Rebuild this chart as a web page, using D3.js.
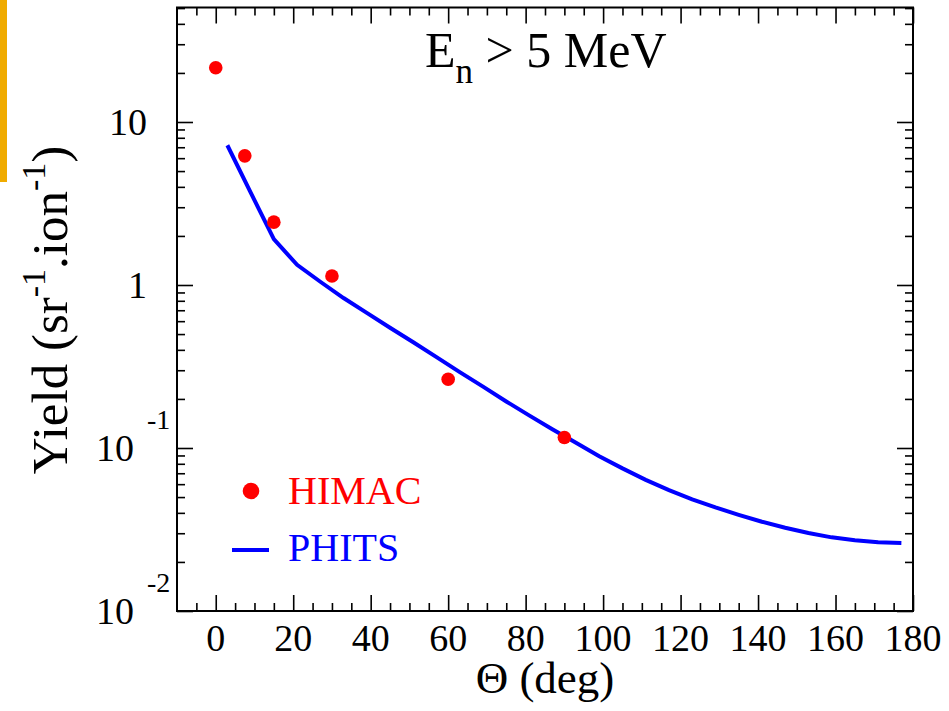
<!DOCTYPE html>
<html>
<head>
<meta charset="utf-8">
<script src="https://cdn.jsdelivr.net/npm/d3@7"></script>
<style>
body { margin: 0; background: #fff; }
text { font-family: "Liberation Serif", "Times New Roman", serif; }
</style>
</head>
<body>
<div id="chart"></div>
<script>
// measured points (HIMAC)
var himacAngle = [0, 7.5, 15, 30, 60, 90];
var himacYield = [21.5, 6.2, 2.43, 1.135, 0.264, 0.116];

// PHITS calculation
var phitsAngle = [3, 9, 15, 21, 27, 33, 39, 45, 51, 57, 63, 69, 75, 81, 87, 93, 99, 105,
    111, 117, 123, 129, 135, 141, 147, 153, 159, 165, 171, 177];
var phitsYield = [7.2, 3.7, 1.91, 1.33, 1.047, 0.832, 0.675, 0.547, 0.445, 0.361, 0.292,
    0.238, 0.193, 0.158, 0.130, 0.1076, 0.089, 0.0750, 0.0638, 0.0552, 0.0484, 0.0432,
    0.0389, 0.0353, 0.0324, 0.0301, 0.0283, 0.0272, 0.0264, 0.0261];

var xTicks = [0, 20, 40, 60, 80, 100, 120, 140, 160, 180];
var xMinor = [-5, 5, 10, 15, 25, 30, 35, 45, 50, 55, 65, 70, 75, 85, 90, 95, 105, 110, 115,
    125, 130, 135, 145, 150, 155, 165, 170, 175];
var yTicks = [0.01, 0.1, 1, 10];
var yBase = ["10", "10", "1", "10"];
var yExp = ["-2", "-1", "", ""];

var width = 949, height = 711;
var pLeft = 177, pRight = 913, pTop = 7.5, pBottom = 611;

var svg = d3.select("#chart")
    .append("svg")
    .attr("width", width)
    .attr("height", height);

// stray orange strip at the left edge of the picture
svg.append("rect")
    .attr("x", 0).attr("y", 0)
    .attr("width", 7).attr("height", 182)
    .attr("fill", "#f0ab00");

var x = d3.scaleLinear().domain([-10, 180]).range([pLeft, pRight]);
var y = d3.scaleLog().domain([0.01, 50.4]).range([pBottom, pTop]);

var yMinor = [];
yTicks.forEach(function(d) {
    for (var k = 2; k <= 9; k++) {
        if (d * k <= 50.4) yMinor.push(d * k);
    }
});

// ticks on all four sides, pointing inward
function tickAxis(gen, scale, vals, size, tx, ty) {
    var g = svg.append("g")
        .attr("transform", "translate(" + tx + "," + ty + ")")
        .call(gen(scale).tickValues(vals).tickSize(-size).tickFormat(""));
    g.select(".domain").remove();
    g.selectAll("line").attr("stroke", "#000").attr("stroke-width", 1.6);
}
tickAxis(d3.axisBottom, x, xTicks, 16, 0, pBottom);
tickAxis(d3.axisBottom, x, xMinor, 8, 0, pBottom);
tickAxis(d3.axisTop, x, xTicks, 16, 0, pTop);
tickAxis(d3.axisTop, x, xMinor, 8, 0, pTop);
tickAxis(d3.axisLeft, y, yTicks, 16, pLeft, 0);
tickAxis(d3.axisLeft, y, yMinor, 8, pLeft, 0);
tickAxis(d3.axisRight, y, yTicks, 16, pRight, 0);
tickAxis(d3.axisRight, y, yMinor, 8, pRight, 0);

svg.append("rect")
    .attr("x", pLeft).attr("y", pTop)
    .attr("width", pRight - pLeft).attr("height", pBottom - pTop)
    .attr("fill", "none")
    .attr("stroke", "#000")
    .attr("stroke-width", 2);

// x tick labels
svg.selectAll(".xlab")
    .data(xTicks)
    .join("text")
    .attr("class", "xlab")
    .attr("x", function(d){ return x(d); })
    .attr("y", 651)
    .attr("text-anchor", "middle")
    .attr("font-size", "38px")
    .text(function(d){ return d; });

// y tick labels, with exponent where needed
yTicks.forEach(function(d, i) {
    var yy = y(d);
    if (yExp[i] == "") {
        svg.append("text")
            .attr("x", 147).attr("y", yy + 13)
            .attr("text-anchor", "end")
            .attr("font-size", "38px")
            .text(yBase[i]);
    } else {
        svg.append("text")
            .attr("x", 134).attr("y", yy + 13)
            .attr("text-anchor", "end")
            .attr("font-size", "38px")
            .text(yBase[i]);
        svg.append("text")
            .attr("x", 147).attr("y", yy - 19)
            .attr("font-size", "28px")
            .text(yExp[i]);
    }
});

// axis titles
svg.append("text")
    .attr("x", (pLeft + pRight) / 2)
    .attr("y", 693)
    .attr("text-anchor", "middle")
    .attr("font-size", "45px")
    .text("\u0398 (deg)");

var yt = svg.append("text")
    .attr("transform", "translate(67,310) rotate(-90)")
    .attr("text-anchor", "middle")
    .attr("font-size", "51px");
yt.append("tspan").text("Yield (sr");
yt.append("tspan").attr("dy", -22).attr("font-size", "34px").text("-1");
yt.append("tspan").attr("dy", 22).text(".ion");
yt.append("tspan").attr("dy", -22).attr("font-size", "34px").text("-1");
yt.append("tspan").attr("dy", 22).text(")");

// panel title
var tt = svg.append("text")
    .attr("x", 425).attr("y", 67)
    .attr("font-size", "50px");
tt.append("tspan").text("E");
tt.append("tspan").attr("dy", 16).attr("font-size", "35px").text("n");
tt.append("tspan").attr("dy", -16).text(" > 5 MeV");

// PHITS line
var phits = phitsAngle.map(function(a, i){ return [a, phitsYield[i]]; });
var line = d3.line()
    .x(function(d){ return x(d[0]); })
    .y(function(d){ return y(d[1]); });
svg.append("path")
    .datum(phits)
    .attr("d", line)
    .attr("fill", "none")
    .attr("stroke", "#0000ff")
    .attr("stroke-width", 4);

// HIMAC points
svg.selectAll(".himac")
    .data(himacAngle)
    .join("circle")
    .attr("class", "himac")
    .attr("cx", function(d){ return x(d); })
    .attr("cy", function(d, i){ return y(himacYield[i]); })
    .attr("r", 6.8)
    .attr("fill", "#ff0000");

// legend
svg.append("circle")
    .attr("cx", 251).attr("cy", 491).attr("r", 8.3)
    .attr("fill", "#ff0000");
svg.append("text")
    .attr("x", 288).attr("y", 504)
    .attr("font-size", "40px")
    .attr("fill", "#ff0000")
    .text("HIMAC");
svg.append("line")
    .attr("x1", 232).attr("x2", 269)
    .attr("y1", 550).attr("y2", 550)
    .attr("stroke", "#0000ff")
    .attr("stroke-width", 4);
svg.append("text")
    .attr("x", 288).attr("y", 561)
    .attr("font-size", "40px")
    .attr("fill", "#0000ff")
    .text("PHITS");
</script>
</body>
</html>
